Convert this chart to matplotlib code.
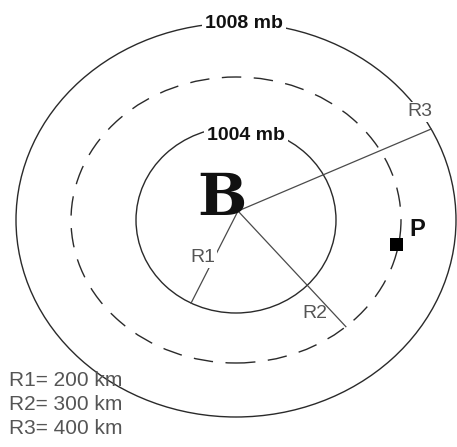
import numpy as np
import matplotlib.pyplot as plt
from matplotlib.patches import Ellipse, Rectangle

plt.rcParams['lines.scale_dashes'] = False

W, H = 457, 447

# isobars around the low (diagram units, y up)
ring_labels = ['1004 mb', '', '1008 mb']
ring_rx = [100, 165, 220]
ring_ry = [93, 143, 197]
ring_dashed = [False, True, False]
low_center = np.array([236.0, 227.0])

# radius lines from the low to each ring
radius_names = ['R1', 'R2', 'R3']
radius_km = [200, 300, 400]
radius_angle = [243, 313, 23]   # degrees, ccw from east
line_origin = np.array([238.0, 236.0])

ink = '#2a2a2a'
grey = '#4a4a4a'


def ray_to_ellipse(origin, angle, center, rx, ry):
    """Point where a ray from origin meets the ellipse."""
    d = np.array([np.cos(np.radians(angle)), np.sin(np.radians(angle))])
    p = origin - center
    a = (d[0] / rx) ** 2 + (d[1] / ry) ** 2
    b = 2 * (p[0] * d[0] / rx ** 2 + p[1] * d[1] / ry ** 2)
    c = (p[0] / rx) ** 2 + (p[1] / ry) ** 2 - 1
    t = (-b + np.sqrt(b * b - 4 * a * c)) / (2 * a)
    return origin + t * d


fig = plt.figure(figsize=(W / 100, H / 100), dpi=100)
ax = fig.add_axes([0, 0, 1, 1])
ax.set_xlim(0, W)
ax.set_ylim(0, H)
ax.axis('off')

for rx, ry, dashed in zip(ring_rx, ring_ry, ring_dashed):
    ls = (0, (14, 9)) if dashed else 'solid'
    ax.add_patch(Ellipse(low_center, 2 * rx, 2 * ry, fill=False,
                         edgecolor=ink, lw=1.0, linestyle=ls, zorder=2))

# radius lines
for i, ang in enumerate(radius_angle):
    end = ray_to_ellipse(line_origin, ang, low_center, ring_rx[i], ring_ry[i])
    ax.plot([line_origin[0], end[0]], [line_origin[1], end[1]],
            color=grey, lw=0.9, zorder=3)

label_font = dict(family='Liberation Sans', color='#555555', zorder=5)
box = dict(facecolor='white', edgecolor='none', pad=1)

# R labels
ax.text(203, 189, radius_names[0], fontsize=14, ha='center', va='center',
        bbox=box, **label_font)
ax.text(315, 133, radius_names[1], fontsize=14, ha='center', va='center',
        **label_font)
ax.text(420, 335, radius_names[2], fontsize=14, ha='center', va='center',
        bbox=box, **label_font)

# isobar labels
ax.text(244, 424, ring_labels[2], fontsize=14, fontweight='bold',
        family='Liberation Sans', ha='center', va='center', color='#111111',
        bbox=dict(facecolor='white', edgecolor='none', pad=2), zorder=5)
ax.text(246, 312, ring_labels[0], fontsize=14, fontweight='bold',
        family='Liberation Sans', ha='center', va='center', color='#111111',
        bbox=dict(facecolor='white', edgecolor='none', pad=2), zorder=5)

# low pressure centre
ax.text(222, 248, 'B', fontsize=42, fontweight='bold',
        family='DejaVu Serif', ha='center', va='center', color='#111111',
        zorder=6)

# point P
ax.add_patch(Rectangle((390, 196), 13, 13, facecolor='black',
                       edgecolor='none', zorder=6))
ax.text(417, 218, 'P', fontsize=17, fontweight='bold',
        family='Liberation Sans', ha='center', va='center', color='#111111')

# key
for i, (name, km) in enumerate(zip(radius_names, radius_km)):
    ax.text(9, 67 - 24.5 * i, f'{name}= {km} km', fontsize=15,
            ha='left', va='center', **label_font)

fig.savefig('out.png', dpi=100)
